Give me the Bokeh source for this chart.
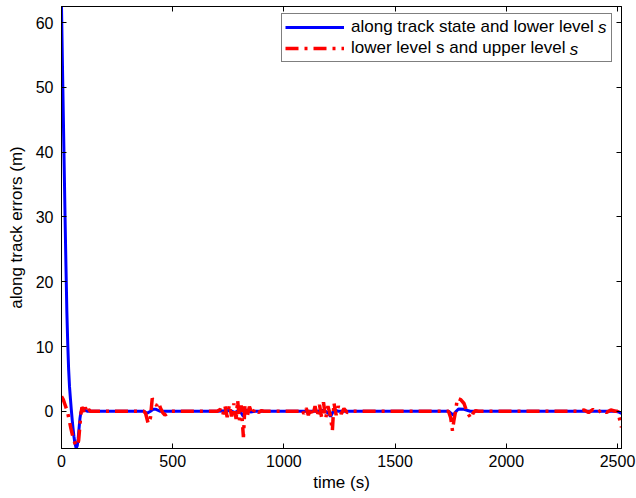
from bokeh.plotting import figure
from bokeh.models import (Range1d, FixedTicker, LinearAxis, Legend, LegendItem,
                          CustomLabelingPolicy)
from bokeh.core.properties import value
from bokeh.embed import file_html
from bokeh.resources import INLINE

# ---- data ----
t_blue = [0, 4, 8, 12, 16, 20, 24, 28, 32, 36, 40, 44, 48, 52, 56, 60, 66, 71, 75, 79, 83, 87, 92,
          98, 106, 118, 370, 385, 400, 412, 425, 445, 700, 760, 780, 800, 818, 830, 850, 870,
          1150, 1180, 1200, 1210, 1225, 1245, 1740, 1762, 1775, 1785, 1810, 1838, 2490, 2505, 2518]
v_blue = [62.5, 54, 46, 38, 30, 22.5, 15.5, 10.5, 6.5, 3.8, 2.0, 0.3, -1.3, -2.7, -3.9, -4.9, -5.7,
          -5.3, -4.2, -2.6, -1.1, -0.2, 0.25, 0.3, 0.15, 0, 0, -0.3, 0.0, 0.3, 0.3, 0, 0, 0.1,
          -0.2, 0.2, -0.8, 0.2, -0.1, 0, 0, 0.15, -0.3, -0.8, 0.2, 0, 0, -0.6, 0, 0.35, 0.3, 0,
          0, -0.1, -0.35]

t_red = [0, 8, 16, 24, 30, 36, 42, 48, 54, 60, 66, 72, 77, 82, 87, 92, 97, 102, 107, 112, 117, 122,
         130, 370, 378, 390, 400, 408, 418, 428, 436, 445, 455, 465, 478, 490,
         700, 715, 725, 735, 745, 755, 765, 775, 785, 792, 800, 808, 818, 825, 835, 845, 858, 870,
         885, 900, 910,
         1070, 1080, 1090, 1100, 1110, 1120, 1130, 1140, 1150, 1160, 1170, 1178, 1188, 1198, 1208,
         1218, 1225, 1235, 1245, 1258, 1270, 1285, 1300,
         1740, 1750, 1758, 1764, 1772, 1780, 1795, 1810, 1820, 1830, 1842, 1852, 1862, 1875,
         2330, 2350, 2370, 2390, 2410, 2430, 2450, 2470, 2490, 2500, 2508, 2518]
v_red = [2.3, 1.8, 1.0, 0.2, -0.6, -1.6, -2.6, -3.5, -4.3, -4.9, -5.3, -5.3, -4.5, -2.5, -0.5, 0.6,
         0.4, -0.3, 0.6, 0.1, -0.2, 0.3, 0,
         0, -0.3, -1.9, -1.0, 2.0, 1.2, 0.9, 1.4, 0.5, -0.2, -0.6, -0.3, 0,
         0, 0.3, -0.6, 0.8, -0.9, 1.0, -0.8, 1.2, -1.2, 1.7, -1.4, 0.9, -4.0, 1.0, -0.8, 0.7, -0.5,
         0.4, -0.2, 0.1, 0,
         0, 0.3, -0.4, 0.5, -0.6, 0.6, -0.7, 0.8, -0.8, 1.0, -1.0, 1.4, -1.1, 0.8, -0.5,
         -3.0, 1.3, -0.6, 0.8, -0.4, 0.4, -0.2, 0,
         0, -1.0, -3.0, -1.5, 0, 2.0, 1.8, 1.2, 0.2, -0.5, -1.1, -0.2, 0.1, 0,
         0, 0.2, -0.2, 0.3, -0.2, 0.25, -0.2, 0.2, 0, 0, -1.0, -2.5]

x_ticks = [0, 500, 1000, 1500, 2000, 2500]
y_ticks = [0, 10, 20, 30, 40, 50, 60]

label_blue = "along track state and lower level"
label_red = "lower level s and upper level"
italic_suffix = "s"

FONT = "Liberation Sans"
X0, X1 = 0, 2518
Y0, Y1 = -5.75, 62.5

# frame geometry (pixels) used only to place legend decorations
FL, FR, FT, FB = 61, 621, 6, 448


def px_to_data(sx, sy):
    return (X0 + (sx - FL) / (FR - FL) * (X1 - X0),
            Y1 - (sy - FT) / (FB - FT) * (Y1 - Y0))


p = figure(width=636, height=498, output_backend="svg", toolbar_location=None,
           x_range=Range1d(X0, X1), y_range=Range1d(Y0, Y1),
           min_border_left=FL, min_border_right=636 - FR, min_border_top=FT,
           min_border_bottom=498 - FB)
p.xgrid.visible = False
p.ygrid.visible = False
p.outline_line_color = "black"
p.outline_line_width = 1
p.background_fill_color = "white"
p.border_fill_color = "white"

for ax in (p.xaxis[0], p.yaxis[0]):
    ax.major_tick_in = 5
    ax.major_tick_out = 0
    ax.minor_tick_line_color = None
    ax.axis_line_color = "black"
    ax.major_label_text_font = FONT
    ax.major_label_text_font_size = "16px"
    ax.major_label_text_color = "black"
    ax.axis_label_text_font = FONT
    ax.axis_label_text_font_size = "17px"
    ax.axis_label_text_font_style = "normal"
    ax.axis_label_text_color = "black"
p.xaxis.ticker = FixedTicker(ticks=x_ticks)
p.yaxis.ticker = FixedTicker(ticks=y_ticks)
p.xaxis.axis_label = "time (s)"
p.yaxis.axis_label = "along track errors (m)"
p.xaxis.major_label_standoff = 6
p.yaxis.major_label_standoff = 8
p.xaxis.axis_label_standoff = 3
p.yaxis.axis_label_standoff = 7

no_labels = CustomLabelingPolicy(code="""
try { for (const i of Array.from(indices)) indices.unset(i) } catch (e) {}
return indices
""")
top = LinearAxis(ticker=FixedTicker(ticks=x_ticks), major_tick_in=5, major_tick_out=0,
                 minor_tick_line_color=None, major_label_text_font_size="0px",
                 major_label_standoff=0, major_label_policy=no_labels)
right = LinearAxis(ticker=FixedTicker(ticks=y_ticks), major_tick_in=5, major_tick_out=0,
                   minor_tick_line_color=None, major_label_text_font_size="0px",
                   major_label_standoff=0, major_label_policy=no_labels)
p.add_layout(top, "above")
p.add_layout(right, "right")

rb = p.line(t_blue, v_blue, line_color="#0000ff", line_width=3)
rr = p.line(t_red, v_red, line_color="#ff0000", line_width=3.5, line_dash="13 6 3 6")

# legend geometry (pixels): box left 281, bottom 62; padding 3, glyph 59, standoff 7
LEG_L, LEG_B = 281, 62
PAD, GW, STAND, SPACE = 3, 59, 7, 1
ROW_H = 20.5
leg_top = LEG_B - (2 * PAD + 2 * ROW_H + SPACE)
text_x0 = LEG_L + PAD + GW + STAND
em = 17.0
rows_y = [leg_top + PAD + ROW_H / 2, leg_top + PAD + ROW_H + SPACE + ROW_H / 2]

# italic "s" appended to each legend entry (drawn as text glyphs under a transparent legend)
sx_list, sy_list = [], []
for w_em, row_y in zip((14.562, 12.894), rows_y):
    dx, dy = px_to_data(text_x0 + w_em * em, row_y)
    sx_list.append(dx)
    sy_list.append(dy)
p.text(x=sx_list, y=sy_list, text=[italic_suffix, italic_suffix],
       text_font=value(FONT), text_font_size="17px", text_font_style="italic",
       text_baseline="middle", text_align="left", text_color="black")

legend = Legend(items=[LegendItem(label=label_blue + "   ", renderers=[rb]),
                       LegendItem(label=label_red + "   ", renderers=[rr])],
                location=(LEG_L - FL, FB - LEG_B), border_line_color="black",
                border_line_width=1,
                label_text_font=FONT, label_text_font_size="17px", label_text_color="black",
                glyph_width=GW, glyph_height=18, label_height=18, label_standoff=STAND,
                spacing=SPACE, padding=PAD, margin=0, background_fill_alpha=0)
p.add_layout(legend, "center")

open("out.html", "w").write(file_html(p, INLINE))
